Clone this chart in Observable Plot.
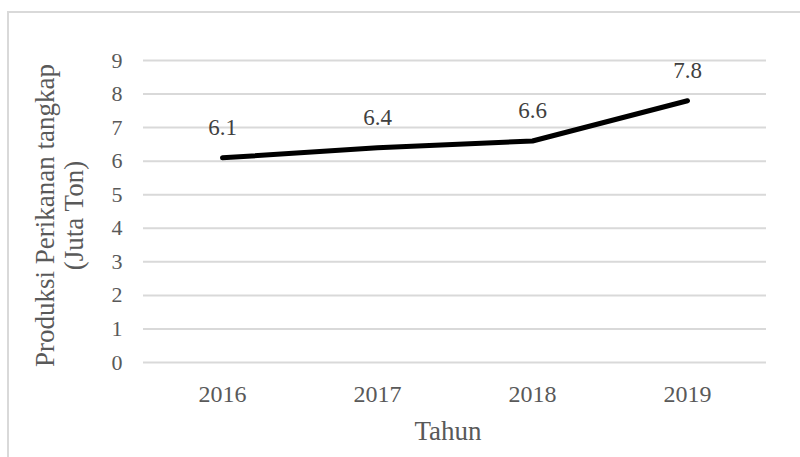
<!DOCTYPE html>
<html><head><meta charset="utf-8">
<script src="https://cdn.jsdelivr.net/npm/d3@7"></script>
<script src="https://cdn.jsdelivr.net/npm/@observablehq/plot@0.6"></script>
<style>
body{margin:0;background:#fff;}
#wrap{position:relative;width:800px;height:457px;overflow:hidden;}
#border{position:absolute;left:7px;top:11px;width:900px;height:600px;border:2px solid #d9d9d9;box-sizing:border-box;}
#wrap svg{position:absolute;left:0;top:0;}
#wrap svg text{font-family:'Liberation Serif','Times New Roman',serif;}
</style></head><body><div id="wrap"><div id="border"></div></div>
<script>
const years = ["2016", "2017", "2018", "2019"];
const production = [6.1, 6.4, 6.6, 7.8];
const yTicks = [0, 1, 2, 3, 4, 5, 6, 7, 8, 9];
const xTitle = "Tahun";
const yTitle = "Produksi Perikanan tangkap\n(Juta Ton)";

const data = years.map((year, i) => ({year, value: production[i]}));
const serif = "'Liberation Serif', 'Times New Roman', serif";

const plot = Plot.plot({
  width: 800,
  height: 457,
  marginLeft: 143,
  marginRight: 34,
  marginTop: 60,
  marginBottom: 95,
  style: {fontFamily: serif, color: "#595959", background: "transparent", overflow: "visible"},
  x: {type: "point", domain: years, padding: 0.5, label: null},
  y: {domain: [0, 9], label: null},
  marks: [
    Plot.gridY(yTicks, {stroke: "#d9d9d9", strokeOpacity: 1, strokeWidth: 2}),
    Plot.axisY(yTicks, {tickSize: 0, tickPadding: 21, fontSize: 22, fontFamily: serif, label: null}),
    Plot.axisX({tickSize: 0, tickPadding: 22, fontSize: 24, fontFamily: serif, label: null}),
    Plot.line(data, {x: "year", y: "value", stroke: "#000", strokeWidth: 5, strokeLinecap: "round", strokeLinejoin: "round"}),
    Plot.text(data, {x: "year", y: "value", text: d => d.value.toFixed(1), dy: -30, fontSize: 23, fontFamily: serif, fill: "#404040"}),
    Plot.text([xTitle], {text: d => d, frameAnchor: "bottom", lineAnchor: "middle", dy: 69, dx: -7, fontSize: 27, fontFamily: serif, fill: "#595959"}),
    Plot.text([yTitle], {text: d => d, frameAnchor: "left", rotate: -90, textAnchor: "middle", lineAnchor: "middle", lineHeight: 1.04, dx: -84, dy: 4, fontSize: 27, fontFamily: serif, fill: "#595959"})
  ]
});
document.getElementById("wrap").appendChild(plot);
</script>
</body></html>
